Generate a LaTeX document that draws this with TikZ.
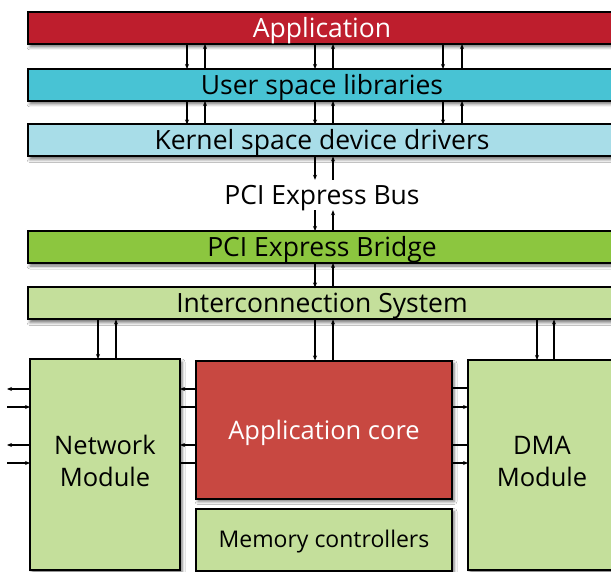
\documentclass[tikz,border=0pt]{standalone}
\usepackage{fontspec}
\setmainfont{Open Sans}
\usetikzlibrary{arrows.meta,shadows.blur}
\definecolor{appred}{HTML}{BE1E2D}
\definecolor{usercyan}{HTML}{48C3D4}
\definecolor{kernblue}{HTML}{A8DDE8}
\definecolor{bridgegreen}{HTML}{8CC63F}
\definecolor{lightgreen}{HTML}{C4DF9B}
\definecolor{corered}{HTML}{C84841}
\begin{document}
\begin{tikzpicture}[x=1pt,y=-1pt,
  box/.style={draw=black, line width=2pt, inner sep=0pt, outer sep=0pt,
    blur shadow={shadow xshift=2pt, shadow yshift=-3pt, shadow blur radius=3pt, shadow opacity=55}},
  oneline/.style={text height=20pt, text depth=1pt},
  bar/.style={box, oneline, minimum width=588pt, minimum height=32pt, font=\fontsize{26.5}{30}\selectfont},
  module/.style={box, font=\fontsize{25.5}{32}\selectfont, align=center},
  twoline/.style={text depth=8pt},
  arr/.style={line width=1.2pt, -{Stealth[length=5pt,width=4pt]}},
  ln/.style={line width=1.2pt}]
\useasboundingbox (0,0) rectangle (611,572);
\clip (0,0) rectangle (611,572);
\fill[white] (0,0) rectangle (611,572);

\node[bar, fill=appred, text=white] (app) at (322,28) {Application};
\node[bar, fill=usercyan] (user) at (322,85) {User space libraries};
\node[bar, fill=kernblue] (kern) at (322,140.5) {Kernel space device drivers};
\node[oneline, inner sep=0pt, minimum height=30pt, font=\fontsize{26.5}{30}\selectfont] (bus) at (322,195) {PCI Express Bus};
\node[bar, fill=bridgegreen] (bridge) at (322,247) {PCI Express Bridge};
\node[bar, fill=lightgreen] (inter) at (322,303.5) {Interconnection System};

\node[module, twoline, fill=lightgreen, minimum width=150pt, minimum height=211pt] (net) at (105,464.5) {Network\\Module};
\node[module, oneline, fill=corered, text=white, minimum width=256pt, minimum height=138pt] (core) at (324,429.5) {Application core};
\node[module, fill=lightgreen, text height=17pt, text depth=1pt, minimum width=256pt, minimum height=62pt, font=\fontsize{23}{26}\selectfont] (mem) at (324,539.5) {Memory controllers};
\node[module, twoline, fill=lightgreen, minimum width=148pt, minimum height=210pt] (dma) at (542,465) {DMA\\Module};

% vertical connectors
\foreach \a/\b in {187/205,315/333,443/462}{
  \draw[arr] (\a,0 |- app.south) -- (\a,0 |- user.north);
  \draw[arr] (\b,0 |- user.north) -- (\b,0 |- app.south);
  \draw[arr] (\a,0 |- user.south) -- (\a,0 |- kern.north);
  \draw[arr] (\b,0 |- kern.north) -- (\b,0 |- user.south);
}
\draw[arr] (315,0 |- kern.south) -- (315,0 |- bus.north);
\draw[arr] (333,0 |- bus.north) -- (333,0 |- kern.south);
\draw[arr] (315,0 |- bus.south) -- (315,0 |- bridge.north);
\draw[arr] (333,0 |- bridge.north) -- (333,0 |- bus.south);
\draw[arr] (315,0 |- bridge.south) -- (315,0 |- inter.north);
\draw[arr] (333,0 |- inter.north) -- (333,0 |- bridge.south);
\draw[arr] (98,0 |- inter.south) -- (98,0 |- net.north);
\draw[arr] (116,0 |- net.north) -- (116,0 |- inter.south);
\draw[arr] (315,0 |- inter.south) -- (315,0 |- core.north);
\draw[arr] (333,0 |- core.north) -- (333,0 |- inter.south);
\draw[arr] (537,0 |- inter.south) -- (537,0 |- dma.north);
\draw[arr] (554,0 |- dma.north) -- (554,0 |- inter.south);

% external network connectors
\coordinate (o1) at (7,389);
\coordinate (i1) at (7,407);
\coordinate (o2) at (7,445);
\coordinate (i2) at (7,463);
\draw[arr] (net.west |- o1) -- (o1);
\draw[arr] (i1) -- (net.west |- i1);
\draw[arr] (net.west |- o2) -- (o2);
\draw[arr] (i2) -- (net.west |- i2);

% core <-> network
\draw[arr] (core.west |- o1) -- (net.east |- o1);
\draw[ln] (net.east |- i1) -- (core.west |- i1);
\draw[arr] (core.west |- o2) -- (net.east |- o2);
\draw[ln] (net.east |- i2) -- (core.west |- i2);

% core <-> DMA
\draw[ln] (core.east |- 0,388) -- (dma.west |- 0,388);
\draw[arr] (core.east |- 0,407) -- (dma.west |- 0,407);
\draw[ln] (core.east |- 0,445) -- (dma.west |- 0,445);
\draw[arr] (core.east |- 0,463) -- (dma.west |- 0,463);
\end{tikzpicture}
\end{document}
